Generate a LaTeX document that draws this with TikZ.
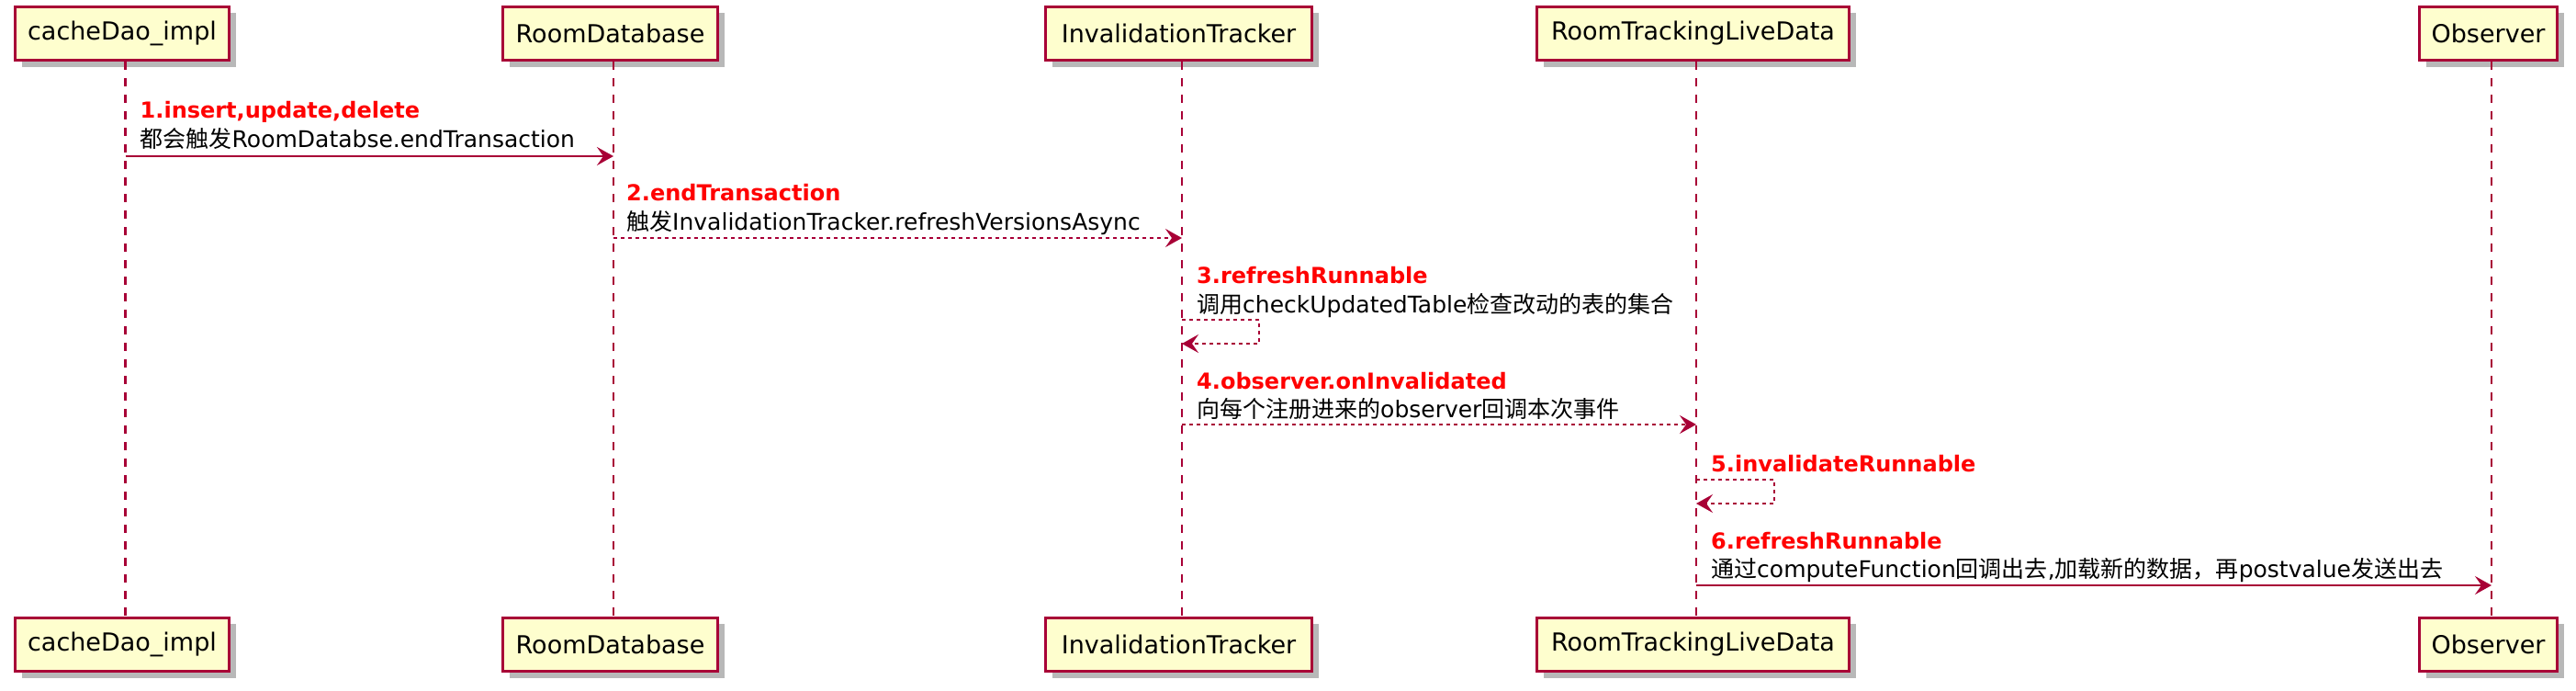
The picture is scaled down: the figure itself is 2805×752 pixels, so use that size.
\documentclass[tikz,border=0pt]{standalone}
\usepackage{fontspec}
\setmainfont{DejaVu Sans}
\newfontfamily\cjk{Noto Sans CJK SC}
\usetikzlibrary{arrows.meta,shadows}
\definecolor{pbord}{HTML}{A80036}
\definecolor{pfill}{HTML}{FEFECE}
\definecolor{pred}{HTML}{FF0000}
\newcommand\zh[1]{{\cjk #1}}
\begin{document}
\begin{tikzpicture}[x=1pt,y=-1pt,
  part/.style={draw=pbord, fill=pfill, line width=2.7pt, minimum height=58.3pt, inner sep=0pt,
    font=\fontsize{27}{32}\selectfont,
    drop shadow={shadow xshift=7pt, shadow yshift=-7pt, opacity=0.28, fill=black}},
  life/.style={draw=pbord, line width=2.2pt, dash pattern=on 9pt off 9pt},
  msg/.style={draw=pbord, line width=1.9pt, -{Stealth[length=18pt,width=20pt,inset=7pt]}},
  dmsg/.style={msg, dash pattern=on 4pt off 4pt},
  lblr/.style={anchor=base west, inner sep=0pt, text=pred, font=\fontsize{24}{28}\selectfont\bfseries},
  lblb/.style={anchor=base west, inner sep=0pt, text=black, font=\fontsize{25}{30}\selectfont},
]
\useasboundingbox (0,0) rectangle (2805,752);
\fill[white] (0,0) rectangle (2805,752);

% participants (top)
\node[part, minimum width=233pt] (t1) at (133,36.5) {cacheDao\_impl};
\node[part, minimum width=234pt] (t2) at (664.5,36.5) {RoomDatabase};
\node[part, minimum width=290pt] (t3) at (1283.5,36.5) {InvalidationTracker};
\node[part, minimum width=340pt] (t4) at (1843.5,36.5) {RoomTrackingLiveData};
\node[part, minimum width=150pt] (t5) at (2709.5,36.5) {Observer};
% participants (bottom)
\node[part, minimum width=233pt] (b1) at (133,701.5) {cacheDao\_impl};
\node[part, minimum width=234pt] (b2) at (664.5,701.5) {RoomDatabase};
\node[part, minimum width=290pt] (b3) at (1283.5,701.5) {InvalidationTracker};
\node[part, minimum width=340pt] (b4) at (1843.5,701.5) {RoomTrackingLiveData};
\node[part, minimum width=150pt] (b5) at (2709.5,701.5) {Observer};

% lifelines
\foreach \i in {1,...,5}{
  \coordinate (L\i) at ([xshift=3.5pt]t\i.south);
  \draw[life] (L\i) -- ([xshift=3.5pt]b\i.north);
}

% message rows
\coordinate (y1) at (0,170);
\coordinate (y2) at (0,259);
\coordinate (y3a) at (0,348);
\coordinate (y3b) at (0,374);
\coordinate (y4) at (0,462);
\coordinate (y5a) at (0,522);
\coordinate (y5b) at (0,548);
\coordinate (y6) at (0,637);

% 1
\node[lblr] (r1) at ([xshift=16pt]L1 |- 0,128) {1.insert,update,delete};
\node[lblb] (k1) at ([xshift=16pt]L1 |- 0,160) {\zh{都会触发}RoomDatabse.endTransaction};
\draw[msg] (L1 |- y1) -- (L2 |- y1);
% 2
\node[lblr] (r2) at ([xshift=14pt]L2 |- 0,218) {2.endTransaction};
\node[lblb] (k2) at ([xshift=14pt]L2 |- 0,250) {\zh{触发}InvalidationTracker.refreshVersionsAsync};
\draw[dmsg] (L2 |- y2) -- (L3 |- y2);
% 3
\node[lblr] (r3) at ([xshift=16pt]L3 |- 0,308) {3.refreshRunnable};
\node[lblb] (k3) at ([xshift=16pt]L3 |- 0,340) {\zh{调用}checkUpdatedTable\zh{检查改动的表的集合}};
\draw[dmsg] (L3 |- y3a) -- ++(84,0) -- ++(0,26) -- (L3 |- y3b);
% 4
\node[lblr] (r4) at ([xshift=16pt]L3 |- 0,423) {4.observer.onInvalidated};
\node[lblb] (k4) at ([xshift=16pt]L3 |- 0,454) {\zh{向每个注册进来的}observer\zh{回调本次事件}};
\draw[dmsg] (L3 |- y4) -- (L4 |- y4);
% 5
\node[lblr] (r5) at ([xshift=16pt]L4 |- 0,513) {5.invalidateRunnable};
\draw[dmsg] (L4 |- y5a) -- ++(85,0) -- ++(0,26) -- (L4 |- y5b);
% 6
\node[lblr] (r6) at ([xshift=16pt]L4 |- 0,597) {6.refreshRunnable};
\node[lblb] (k6) at ([xshift=16pt]L4 |- 0,628) {\zh{通过}computeFunction\zh{回调出去},\zh{加载新的数据，再}postvalue\zh{发送出去}};
\draw[msg] (L4 |- y6) -- (L5 |- y6);
\end{tikzpicture}
\end{document}
